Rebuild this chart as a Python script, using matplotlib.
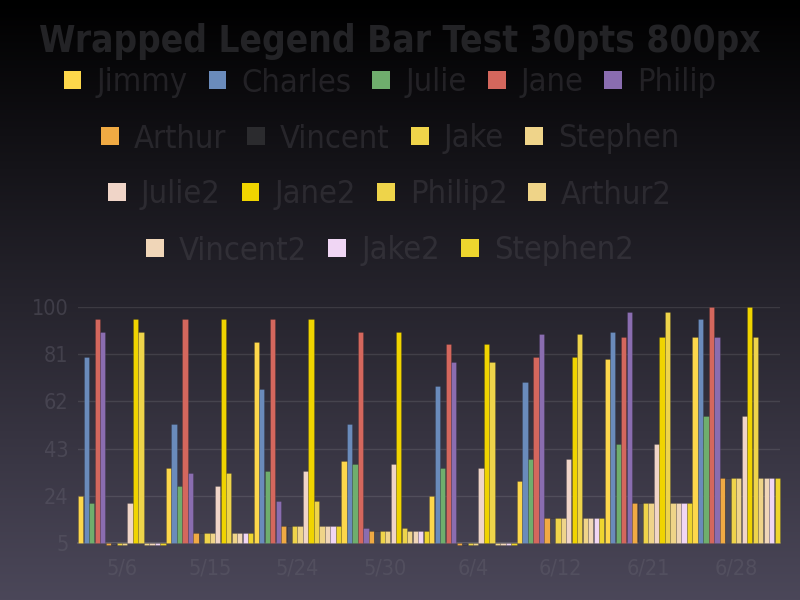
import numpy as np
import matplotlib
matplotlib.use("Agg")
import matplotlib.pyplot as plt
from matplotlib import font_manager
from matplotlib.patches import Patch

categories = ['5/6', '5/15', '5/24', '5/30', '6/4', '6/12', '6/21', '6/28']
names = ['Jimmy', 'Charles', 'Julie', 'Jane', 'Philip', 'Arthur', 'Vincent', 'Jake',
         'Stephen', 'Julie2', 'Jane2', 'Philip2', 'Arthur2', 'Vincent2', 'Jake2', 'Stephen2']

jimmy = [24, 35, 86, 38, 24, 30, 79, 88]
charles = [80, 53, 67, 53, 68, 70, 90, 95]
julie = [21, 28, 34, 37, 35, 39, 45, 56]
jane = [95, 95, 95, 90, 85, 80, 88, 100]
philip = [90, 33, 22, 11, 78, 89, 98, 88]
arthur = [4, 9, 12, 10, 4, 15, 21, 31]
vincent = [4, 9, 12, 10, 4, 15, 21, 31]
jake = [4, 9, 12, 10, 4, 15, 21, 31]
stephen = [4, 9, 12, 10, 4, 15, 21, 31]
julie2 = [21, 28, 34, 37, 35, 39, 45, 56]
jane2 = [95, 95, 95, 90, 85, 80, 88, 100]
philip2 = [90, 33, 22, 11, 78, 89, 98, 88]
arthur2 = [4, 9, 12, 10, 4, 15, 21, 31]
vincent2 = [4, 9, 12, 10, 4, 15, 21, 31]
jake2 = [4, 9, 12, 10, 4, 15, 21, 31]
stephen2 = [4, 9, 12, 10, 4, 15, 21, 31]
series = [jimmy, charles, julie, jane, philip, arthur, vincent, jake,
          stephen, julie2, jane2, philip2, arthur2, vincent2, jake2, stephen2]

colors = ['#fdd74b', '#6a8bbb', '#6fae6d', '#d4675d', '#8a6db0', '#f0aa43', '#2b2b2e', '#efd44a',
          '#efd48a', '#f0d5c8', '#f0d400', '#eed44a', '#efd488', '#f0d6b8', '#f0d6f4', '#eed52e']
bar_colors = list(colors)
bar_colors[6] = '#4a4957'

yticks = [5, 24, 43, 62, 81, 100]
legend_rows = [[0, 1, 2, 3, 4], [5, 6, 7, 8], [9, 10, 11, 12], [13, 14, 15]]

# condensed font if we have it
fam = 'DejaVu Sans'
stretch = 'condensed'
p = font_manager.findfont(font_manager.FontProperties(family='DejaVu Sans', stretch='condensed'))
if 'Condensed' not in p:
    fam = 'Liberation Sans Narrow'
    stretch = 'normal'
plt.rcParams['font.family'] = [fam, 'DejaVu Sans']
plt.rcParams['font.stretch'] = stretch

fig = plt.figure(figsize=(8, 6), dpi=100)

# background gradient
bg = fig.add_axes([0, 0, 1, 1], zorder=-10)
g = np.linspace(0, 1, 256)[:, None]
top = np.array([0, 0, 0]) / 255
bot = np.array([75, 71, 89]) / 255
img = top[None, None, :] * (1 - g[:, :, None]) + bot[None, None, :] * g[:, :, None]
bg.imshow(img, aspect='auto', extent=[0, 1, 0, 1])
bg.axis('off')

ax = fig.add_axes([78 / 800, 57 / 600, 702 / 800, 236 / 600])
ax.patch.set_alpha(0)

n = len(series)
x = np.arange(len(categories))
slot = 1.0 / n
for j, vals in enumerate(series):
    h = np.array(vals) - 5
    ax.bar(x - 0.5 + (j + 0.5) * slot, h, width=slot * 0.96, bottom=5,
           color=bar_colors[j], edgecolor=(0, 0, 0, 0.18), linewidth=0.5,
           clip_on=False, zorder=3)

ax.set_xlim(-0.5, len(categories) - 0.5)
ax.set_ylim(5, 100)
ax.set_yticks(yticks)
ax.set_xticks(x)
ax.set_xticklabels(categories)
ax.grid(axis='y', color='white', alpha=0.1, linewidth=1)
ax.set_axisbelow(True)
for s in ['top', 'right', 'left']:
    ax.spines[s].set_visible(False)
ax.spines['bottom'].set_color((1, 1, 1, 0.15))
ax.spines['bottom'].set_linewidth(1.3)
lab = (0.39, 0.38, 0.43, 0.42)
ax.tick_params(axis='y', length=0, pad=7, labelsize=15.5, labelcolor=lab)
ax.tick_params(axis='x', length=0, pad=11, labelsize=15.5, labelcolor=lab)

fig.text(0.5, 1 - 42 / 600, 'Wrapped Legend Bar Test 30pts 800px', ha='center', va='center',
         fontsize=26.5, fontweight='bold', color='#232326')

row_y = [83, 139, 195, 251]
for r, idx in enumerate(legend_rows):
    handles = [Patch(facecolor=colors[i], edgecolor='none') for i in idx]
    leg = fig.legend(handles, [names[i] for i in idx], loc='center',
                     bbox_to_anchor=(390 / 800, 1 - row_y[r] / 600), ncol=len(idx),
                     frameon=False, fontsize=23.4, handlelength=0.55, handleheight=0.52,
                     handletextpad=0.46, columnspacing=0.65, borderpad=0, borderaxespad=0)
    for t in leg.get_texts():
        t.set_color((0.33, 0.32, 0.35, 0.34))

fig.savefig('out.png', dpi=100)
